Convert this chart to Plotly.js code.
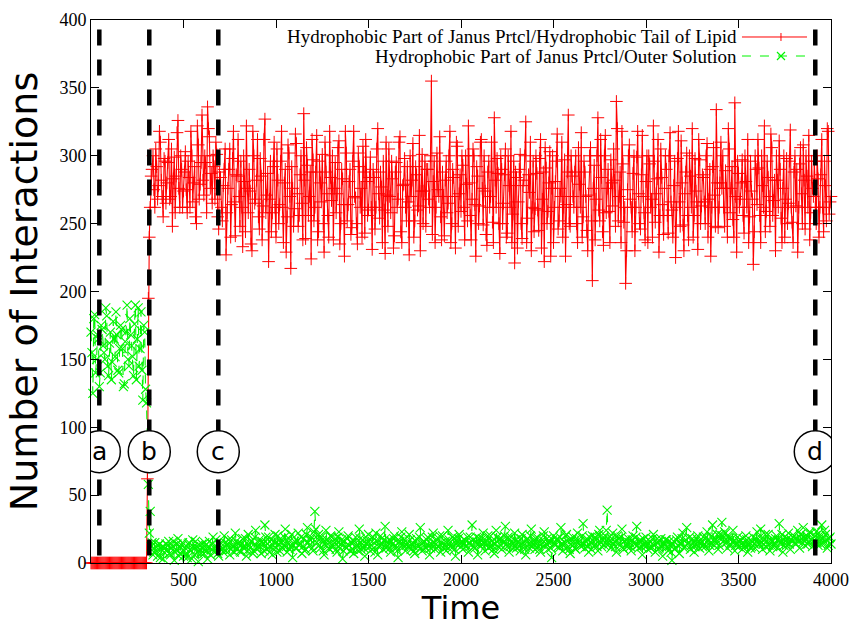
<!DOCTYPE html>
<html>
<head>
<meta charset="utf-8">
<script src="https://cdn.plot.ly/plotly-3.0.1.min.js"></script>
<style>
html,body{margin:0;padding:0;background:#fff;}
#chart{width:852px;height:627px;}
</style>
</head>
<body>
<div id="chart"></div>
<script>
// ---- data (read from the reference picture, sampled every 5 time units) ----
// "main" arrays hold t = 0,10,20,...,4000 ; "mid" arrays hold t = 5,15,...,3995
const timeStep = 5;

const seriesNames = [
  'Hydrophobic Part of Janus Prtcl/Hydrophobic Tail of Lipid',
  'Hydrophobic Part of Janus Prtcl/Outer Solution'
];

// Hydrophobic Part / Hydrophobic Tail of Lipid, t = 0..300
const lipidBefore = [0,0,0,0,0,0,0,0,0,0,0,0,0,0,0,0,0,0,0,0,0,0,0,0,0,0,0,0,0,0,0];
// t = 310..4000
const lipidAfter = [
  195,262,290,275,305,268,318,282,255,296,
  280,312,270,248,299,285,326,262,290,274,
  303,258,284,318,266,292,250,308,279,330,
  271,295,336,314,287,300,268,301,246,284,
  252,290,227,276,305,264,318,241,285,270,
  296,233,281,322,258,274,230,300,268,312,
  246,285,263,327,271,222,296,258,310,240,
  282,264,318,236,290,255,302,217,276,261,
  309,248,286,265,331,239,293,270,224,297,
  262,315,244,280,301,229,288,256,318,267,
  238,295,272,311,250,283,226,302,264,290,
  247,318,269,235,292,276,307,243,281,260,
  299,231,284,262,320,254,277,296,228,271,
  305,258,283,241,295,268,314,236,279,262,
  292,227,270,309,252,286,263,230,301,274,
  248,290,262,355,281,236,302,270,255,288,
  241,296,265,318,250,284,232,307,272,259,
  293,238,279,322,256,268,300,226,285,263,
  312,249,274,234,296,270,251,328,262,287,
  228,290,265,305,243,278,318,257,221,284,
  266,301,239,282,325,254,273,230,296,261,
  287,245,312,268,222,291,259,303,276,236,
  281,316,252,270,240,297,264,330,248,285,
  262,300,236,279,317,255,288,245,271,306,
  208,293,268,328,252,284,234,315,276,259,
  297,263,282,340,252,288,318,251,206,275,
  308,262,287,230,299,272,246,315,258,281,
  236,294,268,322,251,283,229,305,264,276,
  290,243,317,260,278,225,298,266,311,249,
  272,302,238,285,320,256,274,231,297,263,
  284,250,309,268,226,292,271,334,247,280,
  276,262,289,240,305,276,253,339,229,287,
  268,297,243,281,312,255,274,220,300,264,
  291,236,278,322,259,284,248,306,267,230,
  282,311,254,276,240,298,265,319,251,288,
  263,229,294,272,308,246,285,315,258,276,
  296,250,283,262,312,244,278,320,257,270
];
// t = 5..305
const lipidMidBefore = [0,0,0,0,0,0,0,0,0,0,0,0,0,0,0,0,0,0,0,0,0,0,0,0,0,0,0,0,0,0,62];
// t = 315..3995
const lipidMidAfter = [
  240,285,300,262,292,278,310,270,298,265,
  295,268,305,283,258,317,276,300,262,288,
  275,296,262,300,280,255,322,268,295,282,
  300,258,320,276,265,292,310,255,288,262,
  278,305,258,290,240,298,266,286,312,248,
  262,300,244,276,290,235,318,265,282,255,
  298,238,312,258,287,268,244,292,262,305,
  250,296,262,280,229,308,270,292,248,316,
  272,256,300,238,282,306,256,288,312,252,
  288,238,296,266,250,310,272,240,284,300,
  276,258,306,235,290,264,318,252,281,242,
  296,270,250,302,262,240,288,312,256,284,
  262,290,246,305,272,288,236,260,310,248,
  270,296,232,288,262,310,244,278,298,252,
  266,300,282,240,292,260,315,274,250,296,
  290,268,300,242,296,262,275,314,238,270,
  282,258,300,236,290,270,310,248,286,300,
  262,300,252,280,238,305,264,292,250,310,
  276,300,242,288,262,310,236,282,298,250,
  300,250,286,240,300,262,236,296,288,232,
  290,250,278,300,236,286,310,262,244,300,
  260,298,232,288,306,250,280,226,300,262,
  296,246,276,310,262,226,288,250,300,270,
  288,250,306,262,240,296,270,230,300,252,
  276,238,300,260,312,244,300,258,290,236,
  280,305,248,320,270,236,294,262,230,300,
  268,244,300,262,318,250,286,270,238,300,
  300,262,240,296,272,312,256,284,242,300,
  256,300,266,240,296,262,318,248,280,230,
  288,256,300,262,240,298,266,312,250,286,
  266,300,240,290,262,306,248,280,262,310,
  300,248,276,320,258,292,240,270,296,262,
  280,256,300,262,236,296,268,244,290,312,
  256,300,262,244,296,270,316,256,282,300,
  262,290,236,300,268,250,296,262,236,300,
  290,262,306,250,282,300,262,238,296,270,
  262,300,240,286,262,296,252,318,266
];

// Hydrophobic Part / Outer Solution, t = 0..300
const solventBefore = [
  170,125,183,150,165,140,172,155,188,145,
  162,135,178,152,168,140,175,158,132,170,
  150,180,160,138,190,165,145,185,120,170,118
];
// t = 310..4000
const solventAfter = [
  58,38,15,8,12,5,14,10,3,11,
  9,16,6,12,2,10,18,7,13,5,
  11,4,15,9,17,6,12,1,10,14,
  7,13,3,16,10,19,8,12,5,15,
  11,20,9,14,6,17,12,22,10,15,
  8,18,13,5,21,11,16,9,24,12,
  17,7,14,28,10,19,12,6,16,11,
  20,9,15,13,25,8,18,12,4,16,
  11,22,14,7,18,10,26,13,19,9,
  38,15,21,11,17,6,24,14,10,19,
  12,18,8,23,14,3,16,11,20,9,
  15,7,19,12,25,10,17,5,14,21,
  9,16,11,22,6,13,18,10,27,12,
  17,8,14,20,11,4,16,23,12,9,
  15,21,10,13,7,18,12,26,9,16,
  11,19,6,14,22,10,17,12,8,20,
  13,9,24,15,11,18,5,16,21,12,
  10,17,13,8,19,28,12,15,6,18,
  14,22,9,16,11,20,13,7,24,12,
  18,10,15,27,12,8,19,14,22,11,
  16,9,21,13,6,18,11,25,14,10,
  19,12,8,17,23,14,10,16,4,20,
  13,18,11,26,9,15,21,12,7,17,
  14,10,22,16,12,29,11,18,8,15,
  20,13,17,9,24,12,19,15,39,14,
  11,22,16,8,18,13,25,10,17,12,
  15,9,20,14,27,11,17,6,13,19,
  10,16,12,21,8,15,11,18,5,14,
  17,9,13,2,16,11,19,7,14,22,
  12,26,15,10,18,8,14,20,11,16,
  19,12,23,9,15,28,13,17,10,21,
  30,16,22,11,18,13,24,9,15,12,
  17,10,14,20,8,15,12,19,11,23,
  14,25,10,17,12,21,9,16,13,18,
  11,29,15,8,19,13,22,10,16,20,
  14,24,11,18,26,13,20,16,22,12,
  17,23,13,19,28,15,21,11,18,14
];
// t = 5..305
const solventMidBefore = [
  155,180,140,168,130,175,160,150,182,138,
  170,148,165,185,142,158,172,130,163,190,
  145,168,152,176,135,188,158,142,175,128,88
];
// t = 315..3995
const solventMidAfter = [
  22,12,6,15,9,13,4,12,8,14,
  13,7,11,16,8,14,5,11,15,9,
  6,14,10,3,12,16,8,13,7,11,
  15,9,12,6,14,11,17,7,13,10,
  8,15,13,17,10,12,8,16,14,9,
  14,11,18,9,13,16,7,19,11,15,
  12,16,9,19,14,8,17,13,21,8,
  14,18,11,19,12,15,10,21,13,11,
  16,13,19,12,9,21,15,17,11,23,
  25,18,13,19,9,14,17,11,20,13,
  15,10,19,11,17,9,12,18,13,15,
  10,16,13,9,18,14,11,19,16,12,
  13,19,8,16,12,20,14,17,11,15,
  11,16,18,13,9,15,19,14,17,13,
  12,17,14,9,16,13,19,11,15,12,
  17,13,11,19,15,14,12,20,15,11,
  16,12,17,13,19,10,14,18,15,16,
  14,12,19,15,13,17,11,19,14,12,
  18,15,13,20,12,16,10,14,19,17,
  13,17,20,14,19,12,16,11,17,15,
  12,18,15,10,17,14,20,12,16,18,
  15,10,14,20,13,18,15,11,17,14,
  17,12,19,14,13,20,16,10,14,19,
  11,18,15,13,20,14,16,12,19,10,
  16,19,12,21,15,17,13,24,18,16,
  18,14,12,20,15,19,11,16,14,18,
  12,17,15,19,13,16,12,18,15,13,
  14,11,18,13,17,10,16,12,14,17,
  12,16,8,14,10,17,13,15,18,11,
  17,14,19,13,15,12,18,16,14,12,
  14,19,16,13,20,17,15,21,13,17,
  20,23,15,19,14,18,16,13,19,16,
  14,18,12,17,13,11,16,14,18,15,
  19,15,14,21,16,13,17,12,15,20,
  17,15,21,13,16,18,14,17,19,15,
  18,16,21,15,19,17,14,23,17,16,
  20,15,22,14,18,24,17,13,19
];

// event markers (time of the stage snapshots)
const eventLabels = ['a','b','c','d'];
const eventTimes  = [45, 315, 688, 3915];
const eventLabelY = 82;   // height (in data units) of the circled letters

const xTickVals = [500,1000,1500,2000,2500,3000,3500,4000];
const yTickVals = [0,50,100,150,200,250,300,350,400];

// ---- build: interleave the 10-step and the mid samples ----
function interleave(main, mid) {
  const out = [];
  for (let i = 0; i < main.length; i++) {
    out.push(main[i]);
    if (i < mid.length) out.push(mid[i]);
  }
  return out;
}
const lipid = interleave(lipidBefore.concat(lipidAfter), lipidMidBefore.concat(lipidMidAfter));
const solvent = interleave(solventBefore.concat(solventAfter), solventMidBefore.concat(solventMidAfter));
const time = lipid.map((_, i) => i * timeStep);

const RED = '#ff0000';
const GREEN = 'rgb(0,245,0)';

const traces = [
  {
    type: 'scatter', mode: 'lines+markers', name: seriesNames[0],
    x: time, y: lipid, cliponaxis: false,
    line: {color: RED, width: 1.1},
    marker: {symbol: 'cross-thin', size: 9, color: RED, line: {color: RED, width: 1}},
    showlegend: false
  },
  {
    type: 'scatter', mode: 'lines+markers', name: seriesNames[1],
    x: time, y: solvent, cliponaxis: false,
    line: {color: GREEN, width: 1.1, dash: 'dash'},
    marker: {symbol: 'x-thin', size: 9, color: GREEN, line: {color: GREEN, width: 1.1}},
    showlegend: false
  }
];

const shapes = [];
const annotations = [];

// dashed vertical event lines
eventTimes.forEach(t => {
  shapes.push({type: 'line', xref: 'x', yref: 'y', x0: t, x1: t, y0: 393, y1: 0,
    line: {color: 'black', width: 4.5, dash: '16px,14px'}, layer: 'above'});
});
// circled labels
eventTimes.forEach((t, i) => {
  shapes.push({type: 'circle', xref: 'x', yref: 'y', xsizemode: 'pixel', ysizemode: 'pixel',
    xanchor: t, yanchor: eventLabelY, x0: -21, x1: 21, y0: -21, y1: 21,
    fillcolor: 'white', line: {color: 'black', width: 1.5}, layer: 'above'});
  annotations.push({xref: 'x', yref: 'y', x: t, y: eventLabelY, text: eventLabels[i],
    showarrow: false, font: {family: 'DejaVu Sans', size: 25, color: 'black'},
    xanchor: 'center', yanchor: 'middle'});
});

// custom legend (text right-aligned, sample on the right, gnuplot style)
const legX = 0.876, legRows = [0.9687, 0.9337];
const sx0 = 0.8797, sx1 = 0.9676, sm = 0.9324;
const dyp = 4 / 543, dxp = 4 / 740;
seriesNames.forEach((nm, i) => {
  annotations.push({xref: 'paper', yref: 'paper', x: legX, y: legRows[i], text: nm,
    showarrow: false, xanchor: 'right', yanchor: 'middle',
    font: {family: 'Liberation Serif', size: 19, color: 'black'}});
});
shapes.push({type: 'line', xref: 'paper', yref: 'paper', x0: sx0, x1: sx1, y0: legRows[0], y1: legRows[0],
  line: {color: RED, width: 1}});
shapes.push({type: 'line', xref: 'paper', yref: 'paper', x0: sm, x1: sm, y0: legRows[0] - dyp, y1: legRows[0] + dyp,
  line: {color: RED, width: 1}});
shapes.push({type: 'line', xref: 'paper', yref: 'paper', x0: sx0, x1: sx1, y0: legRows[1], y1: legRows[1],
  line: {color: GREEN, width: 1, dash: 'dash'}});
shapes.push({type: 'line', xref: 'paper', yref: 'paper', x0: sm - dxp, x1: sm + dxp, y0: legRows[1] - dyp, y1: legRows[1] + dyp,
  line: {color: GREEN, width: 1.2}});
shapes.push({type: 'line', xref: 'paper', yref: 'paper', x0: sm - dxp, x1: sm + dxp, y0: legRows[1] + dyp, y1: legRows[1] - dyp,
  line: {color: GREEN, width: 1.2}});

const axisCommon = {
  showline: true, linecolor: 'black', linewidth: 1, mirror: 'ticks',
  ticks: 'inside', ticklen: 8, tickwidth: 1, tickcolor: 'black',
  showgrid: false, zeroline: false,
  tickfont: {family: 'Liberation Serif', size: 18, color: 'black'}
};

const layout = {
  width: 852, height: 627,
  margin: {l: 91, r: 21, t: 20, b: 64},
  paper_bgcolor: 'white', plot_bgcolor: 'white',
  showlegend: false,
  xaxis: Object.assign({}, axisCommon, {
    range: [0, 4000], tickmode: 'array', tickvals: xTickVals,
    title: {text: 'Time', font: {family: 'DejaVu Sans', size: 32, color: 'black'}, standoff: 10}
  }),
  yaxis: Object.assign({}, axisCommon, {
    range: [0, 400], tickmode: 'array', tickvals: yTickVals,
    title: {text: 'Number of Interactions', font: {family: 'DejaVu Sans', size: 38, color: 'black'}, standoff: 10}
  }),
  shapes: shapes,
  annotations: annotations
};

Plotly.newPlot('chart', traces, layout, {displayModeBar: false, staticPlot: true});
</script>
</body>
</html>
